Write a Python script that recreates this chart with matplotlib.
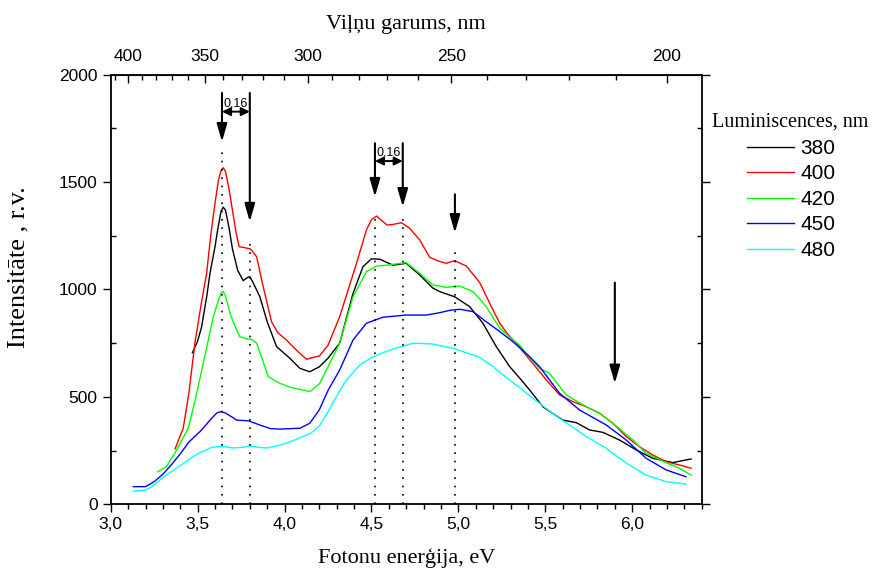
import numpy as np
import matplotlib
matplotlib.use("Agg")
import matplotlib.pyplot as plt
from matplotlib.ticker import MultipleLocator, FixedLocator

# ---------------- data ----------------
labels = ["380", "400", "420", "450", "480"]
colors = ["#000000", "#ff0000", "#00ff00", "#0000ff", "#00ffff"]

e_380 = [3.47, 3.50, 3.523, 3.552, 3.571, 3.60, 3.618, 3.635, 3.647, 3.66, 3.68, 3.70, 3.73, 3.762, 3.785,
         3.80, 3.82, 3.858, 3.90, 3.954, 4.03, 4.088, 4.145, 4.20, 4.25, 4.317, 4.394, 4.451, 4.50, 4.548,
         4.624, 4.70, 4.778, 4.854, 4.893, 4.979, 5.065, 5.141, 5.218, 5.295, 5.362, 5.41, 5.486, 5.601,
         5.678, 5.755, 5.831, 5.927, 6.023, 6.118, 6.233, 6.339]
i_380 = [706, 760, 827, 966, 1075, 1200, 1292, 1365, 1383, 1370, 1290, 1190, 1090, 1041, 1055,
         1060, 1030, 966, 850, 734, 680, 633, 617, 640, 680, 750, 982, 1106, 1143, 1141,
         1113, 1122, 1067, 1006, 990, 966, 920, 843, 734, 641, 579, 532, 454, 392,
         380, 346, 335, 299, 253, 214, 194, 211]

e_400 = [3.37, 3.417, 3.45, 3.484, 3.52, 3.552, 3.575, 3.60, 3.62, 3.635, 3.647, 3.66, 3.68, 3.70, 3.72,
         3.739, 3.77, 3.805, 3.839, 3.877, 3.925, 3.96, 4.01, 4.078, 4.127, 4.17, 4.20, 4.25, 4.317, 4.414,
         4.471, 4.50, 4.529, 4.56, 4.59, 4.624, 4.672, 4.72, 4.778, 4.835, 4.893, 4.931, 4.979, 5.046,
         5.122, 5.199, 5.238, 5.276, 5.314, 5.352, 5.429, 5.506, 5.582, 5.659, 5.736, 5.812, 5.889,
         5.966, 6.042, 6.118, 6.195, 6.272, 6.339]
i_400 = [258, 354, 520, 750, 930, 1077, 1250, 1403, 1510, 1555, 1567, 1550, 1471, 1370, 1269,
         1199, 1195, 1188, 1153, 1013, 850, 800, 765, 710, 675, 685, 690, 740, 873, 1122,
         1277, 1325, 1342, 1320, 1300, 1303, 1311, 1285, 1230, 1150, 1130, 1122, 1134, 1109,
         1033, 905, 843, 800, 765, 730, 655, 579, 509, 478, 454, 424, 377,
         315, 268, 230, 198, 183, 168]

e_420 = [3.27, 3.32, 3.37, 3.41, 3.446, 3.49, 3.532, 3.56, 3.59, 3.62, 3.635, 3.647, 3.66, 3.69, 3.72,
         3.743, 3.78, 3.81, 3.839, 3.87, 3.906, 3.973, 4.03, 4.09, 4.145, 4.20, 4.25, 4.317, 4.394, 4.471,
         4.529, 4.605, 4.65, 4.70, 4.778, 4.854, 4.931, 5.008, 5.084, 5.122, 5.16, 5.238, 5.314, 5.352,
         5.39, 5.467, 5.524, 5.62, 5.736, 5.812, 5.889, 6.003, 6.08, 6.195, 6.272, 6.339]
i_420 = [151, 175, 240, 300, 354, 500, 656, 760, 873, 950, 985, 990, 970, 880, 820,
         780, 770, 768, 750, 680, 594, 563, 545, 535, 524, 560, 640, 750, 966, 1083,
         1109, 1114, 1120, 1125, 1075, 1021, 1010, 1016, 990, 957, 920, 820, 765, 742,
         700, 633, 610, 509, 454, 424, 377, 300, 237, 194, 168, 136]

e_450 = [3.13, 3.20, 3.25, 3.30, 3.35, 3.40, 3.45, 3.523, 3.58, 3.61, 3.632, 3.66, 3.70, 3.724, 3.76,
         3.791, 3.858, 3.92, 3.973, 4.03, 4.088, 4.145, 4.20, 4.25, 4.317, 4.394, 4.471, 4.567, 4.70,
         4.816, 4.893, 4.95, 5.008, 5.084, 5.16, 5.238, 5.314, 5.39, 5.467, 5.582, 5.697, 5.851, 5.966,
         6.08, 6.195, 6.31]
i_450 = [82, 82, 105, 140, 185, 235, 290, 346, 400, 425, 431, 425, 405, 392, 390,
         389, 369, 352, 350, 352, 354, 377, 440, 530, 625, 765, 843, 871, 881,
         881, 892, 903, 908, 897, 850, 804, 757, 703, 641, 517, 439, 369, 299,
         214, 160, 128]

e_480 = [3.13, 3.20, 3.25, 3.30, 3.40, 3.50, 3.58, 3.64, 3.70, 3.76, 3.80, 3.85, 3.90, 3.97, 4.03,
         4.09, 4.15, 4.20, 4.25, 4.29, 4.356, 4.433, 4.51, 4.605, 4.74, 4.854, 4.969, 5.084, 5.122, 5.199,
         5.276, 5.35, 5.429, 5.582, 5.736, 5.851, 5.966, 6.08, 6.195, 6.31]
i_480 = [62, 65, 90, 125, 180, 235, 265, 270, 262, 265, 272, 265, 262, 275, 290,
         310, 330, 365, 430, 490, 579, 649, 687, 718, 750, 746, 726, 695, 684, 641,
         590, 545, 493, 400, 315, 261, 191, 136, 105, 94]

series_e = [e_380, e_400, e_420, e_450, e_480]
series_i = [i_380, i_400, i_420, i_450, i_480]

# marked energies (dotted lines) and their top ends
mark_e = [3.64, 3.80, 4.52, 4.68, 4.98]
mark_top = [1640, 1216, 1347, 1347, 1194]

x_ticks = [3.0, 3.5, 4.0, 4.5, 5.0, 5.5, 6.0]
x_ticklabels = ["3,0", "3,5", "4,0", "4,5", "5,0", "5,5", "6,0"]
y_ticks = [0, 500, 1000, 1500, 2000]
wl_ticks = [400, 350, 300, 250, 200]

HC = 1239.84

# ---------------- figure ----------------
fig = plt.figure(figsize=(8.74, 5.72), dpi=100)
ax = fig.add_axes([0.1267, 0.1184, 0.8029 - 0.1267, 0.8694 - 0.1184])

sans = "Liberation Sans"
serif = "Liberation Serif"

handles = []
for e, i, c, lab in zip(series_e, series_i, colors, labels):
    h, = ax.plot(e, i, color=c, lw=1.0, label=lab)
    handles.append(h)

for xe, top in zip(mark_e, mark_top):
    ax.plot([xe, xe], [0, top], color="k", lw=1.2, linestyle=(0, (1, 4)))

# arrows
def varrow(x, y0, y1):
    ax.annotate("", xy=(x, y1), xytext=(x, y0),
                arrowprops=dict(arrowstyle="-|>,head_length=0.9,head_width=0.26",
                                color="k", lw=1.5, mutation_scale=12,
                                shrinkA=0, shrinkB=0))

def harrow(x0, x1, y):
    ax.annotate("", xy=(x1, y), xytext=(x0, y),
                arrowprops=dict(arrowstyle="<|-|>,head_length=0.5,head_width=0.25",
                                color="k", lw=1.4, mutation_scale=10,
                                shrinkA=0, shrinkB=0))

varrow(3.64, 1915, 1688)
varrow(3.80, 1915, 1316)
harrow(3.64, 3.80, 1828)
ax.text(3.72, 1840, "0,16", ha="center", va="bottom", fontsize=9, family=sans)

varrow(4.52, 1681, 1432)
varrow(4.68, 1681, 1385)
harrow(4.52, 4.68, 1598)
ax.text(4.60, 1610, "0,16", ha="center", va="bottom", fontsize=9, family=sans)

varrow(4.98, 1443, 1264)
varrow(5.90, 1032, 563)

ax.set_xlim(3.0, 6.4)
ax.set_ylim(0, 2000)
ax.xaxis.set_major_locator(FixedLocator(x_ticks))
ax.set_xticklabels(x_ticklabels)
ax.xaxis.set_minor_locator(MultipleLocator(0.1))
ax.yaxis.set_major_locator(FixedLocator(y_ticks))
ax.yaxis.set_minor_locator(MultipleLocator(250))

ax.tick_params(axis="x", which="major", direction="out", length=6, width=1, labelsize=12.5, top=False)
ax.tick_params(axis="x", which="minor", direction="out", length=3.5, width=1, top=False)
ax.tick_params(axis="y", which="major", direction="out", length=6, width=1, labelsize=12.5, right=True)
ax.tick_params(axis="y", which="minor", direction="in", length=3.5, width=1, right=True)
for lab in ax.get_xticklabels() + ax.get_yticklabels():
    lab.set_family(sans)
for sp in ax.spines.values():
    sp.set_linewidth(1.3)

ax.set_xlabel("Fotonu enerģija, eV", family=serif, fontsize=16, labelpad=11)
ax.set_ylabel("Intensitāte , r.v.", family=serif, fontsize=19)
ax.yaxis.set_label_coords(-0.137, 0.552)

def e2w(e):
    e = np.asarray(e, dtype=float)
    with np.errstate(divide="ignore"):
        return HC / e

secax = ax.secondary_xaxis("top", functions=(e2w, e2w))
secax.xaxis.set_major_locator(FixedLocator(wl_ticks))
secax.xaxis.set_minor_locator(FixedLocator(list(range(190, 420, 10))))
secax.tick_params(which="major", direction="in", length=6, width=1, labelsize=12.5, pad=8)
secax.tick_params(which="minor", direction="in", length=3.5, width=1)
for lab in secax.get_xticklabels():
    lab.set_family(sans)
secax.set_xlabel("Viļņu garums, nm", family=serif, fontsize=16, labelpad=14)

fig.text(712 / 874, 1 - 122 / 572, "Luminiscences, nm", family=serif, fontsize=14.5,
         ha="left", va="center")
leg = fig.legend(handles=handles, labels=labels, loc="upper left",
                 bbox_to_anchor=(747 / 874, 1 - 139 / 572), frameon=False,
                 prop={"family": sans, "size": 15},
                 handlelength=2.26, handletextpad=0.29, labelspacing=0.31,
                 borderaxespad=0, borderpad=0)

fig.savefig("out.png", dpi=100)
